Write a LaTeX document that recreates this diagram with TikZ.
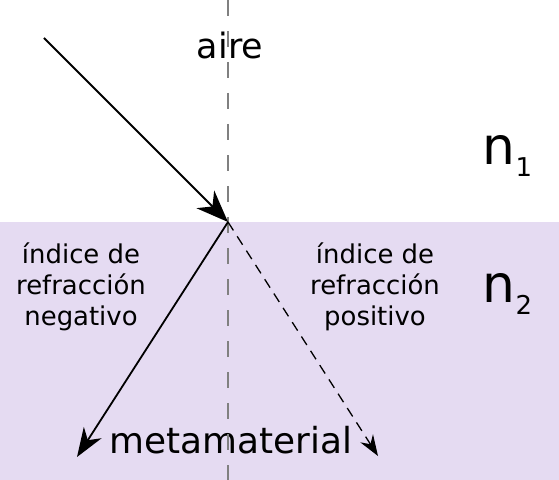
\documentclass[tikz,border=0pt]{standalone}
\usepackage{fontspec}
\setmainfont{DejaVu Sans}
\usetikzlibrary{arrows.meta}
\definecolor{metafill}{RGB}{229,219,242}
\definecolor{normgray}{RGB}{128,128,128}

\begin{document}
\begin{tikzpicture}[x=1bp,y=-1bp,
  ray/.style={line width=1.8bp,black},
  lbl/.style={inner sep=0pt,font=\fontsize{26}{31}\selectfont,align=center},
  big/.style={inner sep=0pt,font=\fontsize{36}{36}\selectfont,anchor=base},
  idx/.style={inner sep=0pt,font=\fontsize{52}{52}\selectfont,anchor=base west}]
\useasboundingbox (0,0) rectangle (559,480);
\fill[metafill] (0,222) rectangle (559,480);
% textos
\node[big,font=\fontsize{35}{35}\selectfont] (aire) at (230,59) {aire};
\node[big] (meta) at (231,453) {metamaterial};
\node[lbl] (neg) at (81,287) {índice de\\refracción\\negativo};
\node[lbl] (pos) at (375,287) {índice de\\refracción\\positivo};
\node[idx] (n1) at (482.5,165) {n\raisebox{-12bp}{\fontsize{26}{26}\selectfont 1}};
\node[idx] (n2) at (482.5,302) {n\raisebox{-12bp}{\fontsize{26}{26}\selectfont 2}};
% normal y rayos
\coordinate (normtop) at (228,0);
\coordinate (normbot) at (228,480);
\coordinate (src) at (44,38);
\coordinate (hit) at (228,222);
\coordinate (negend) at (77,457);
\coordinate (posend) at (378,456);
\draw[normgray,line width=1.3bp,dash pattern=on 16bp off 15bp] (normtop)--(normbot);
\draw[ray,-{Stealth[length=32bp,width=25bp,inset=10bp]}] (src)--(hit);
\draw[ray,-{Stealth[length=29bp,width=21bp,inset=9bp]}] (hit)--(negend);
\draw[ray,line width=1.3bp,dash pattern=on 10bp off 7bp,-{Stealth[length=21bp,width=15bp,inset=7bp]}] (hit)--(posend);
\end{tikzpicture}
\end{document}
